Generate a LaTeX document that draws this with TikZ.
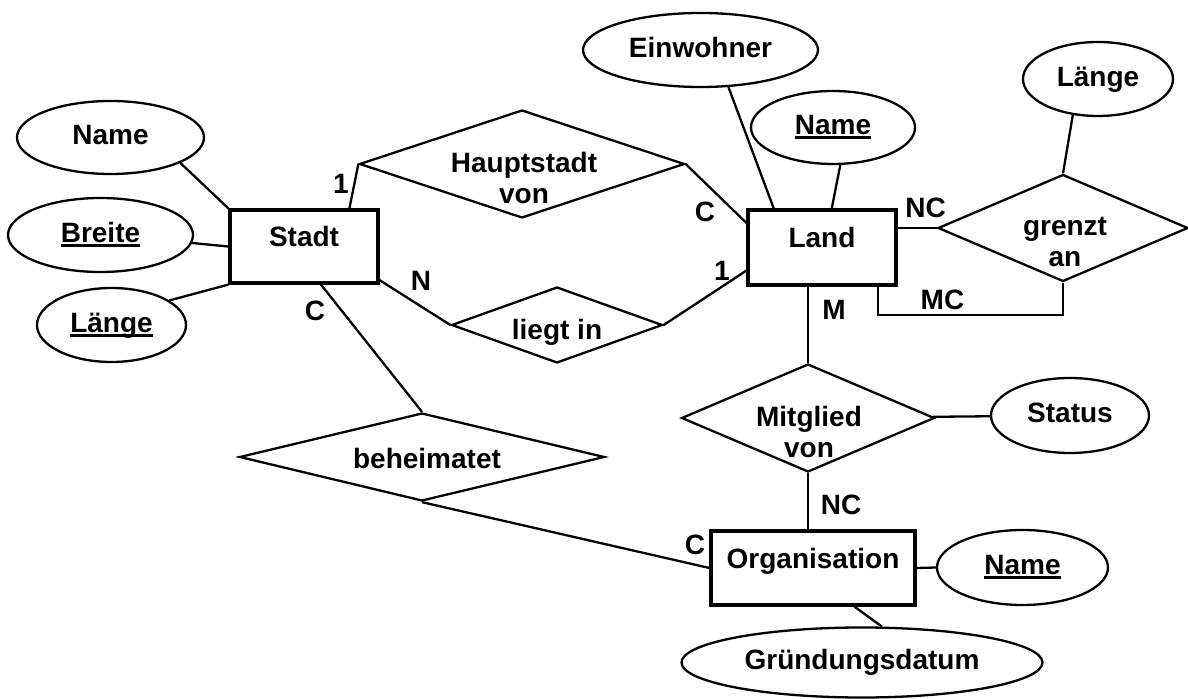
\documentclass[tikz,border=0pt]{standalone}
\usepackage{fontspec}
\setmainfont{Liberation Sans}
\usetikzlibrary{shapes.geometric}

% underlined key attribute
\newsavebox{\keybox}
\newcommand{\keyattr}[1]{\sbox{\keybox}{#1}\rlap{\rule[-2.2pt]{\wd\keybox}{1.4pt}}\usebox{\keybox}}

\tikzset{
    every node/.style={font=\fontsize{14}{15.5}\selectfont\bfseries},
    entity/.style={draw, line width=1.6pt, rectangle, inner sep=0pt,
        text height=0.72em, text depth=0.72em},
    attrib/.style={draw, line width=1.15pt, ellipse, inner sep=0pt,
        text height=0.72em, text depth=0pt},
    rel/.style={draw, line width=1.15pt, diamond, inner sep=0pt},
    lbl/.style={align=center, inner sep=0pt},
    card/.style={inner sep=0pt, text height=0.72em, text depth=0pt}
}

\begin{document}
\begin{tikzpicture}[x=0.5pt, y=-0.5pt, line width=1.15pt]

    \useasboundingbox (0,0) rectangle (1188,699);

    % Define the entities
    \node[entity, minimum width=74pt, minimum height=36.5pt] (stadt) at (304,246.5) {Stadt};
    \node[entity, minimum width=74pt, minimum height=37.5pt] (land) at (822,247.5) {Land};
    \node[entity, minimum width=102pt, minimum height=37pt] (org) at (813,568) {Organisation};

    % Define the attributes
    \node[attrib, minimum width=93.5pt, minimum height=36.5pt] (stadtname) at (110.5,137.5) {Name};
    \node[attrib, minimum width=92.5pt, minimum height=37pt] (breite) at (100.5,235) {\keyattr{Breite}};
    \node[attrib, minimum width=74.5pt, minimum height=37pt] (stadtlaenge) at (111.5,325) {\keyattr{Länge}};
    \node[attrib, minimum width=117.5pt, minimum height=37pt] (einw) at (700.5,50) {Einwohner};
    \node[attrib, minimum width=82pt, minimum height=36.5pt] (landname) at (833,127.5) {\keyattr{Name}};
    \node[attrib, minimum width=75pt, minimum height=37pt] (grenzlaenge) at (1098,79) {Länge};
    \node[attrib, minimum width=79pt, minimum height=37.5pt] (status) at (1070,415.5) {Status};
    \node[attrib, minimum width=85.5pt, minimum height=37.5pt] (orgname) at (1022.5,567.5) {\keyattr{Name}};
    \node[attrib, minimum width=180.5pt, minimum height=35pt] (gruend) at (862,662.5) {Gründungsdatum};

    % Define the relationships
    \node[rel, minimum width=162.5pt, minimum height=54pt] (haupt) at (522,164) {};
    \node[rel, minimum width=105.5pt, minimum height=38pt] (liegt) at (557,325) {};
    \node[rel, minimum width=125pt, minimum height=53.5pt] (grenzt) at (1063,228) {};
    \node[rel, minimum width=126.5pt, minimum height=54pt] (mitglied) at (808,418) {};
    \node[rel, minimum width=182.5pt, minimum height=44pt] (beheim) at (422,457) {};

    \node[lbl] (hauptlbl) at (524,178) {Hauptstadt\\von};
    \node[lbl, anchor=base] (liegtlbl) at (557,340) {liegt in};
    \node[lbl] (grenztlbl) at (1065,242) {grenzt\\an};
    \node[lbl] (mitgllbl) at (809,431.5) {Mitglied\\von};
    \node[lbl, anchor=base] (beheimlbl) at (427,469) {beheimatet};

    % Attribute lines
    \draw (stadtname.-20) -- (stadt.north west);
    \draw (breite.-5) -- (stadt.west);
    \draw (stadtlaenge.23) -- (stadt.south west);
    \draw (einw.-53) -- (land.141);
    \draw (landname.-79) -- (land.76);
    \draw (grenzlaenge.-125) -- (grenzt.north);
    \draw (mitglied) -- (status);
    \draw (org.east) -- (orgname.west);
    \draw (org.-43.5) -- (gruend.61);

    % Relationship lines
    \draw (stadt.40) -- (haupt.west);
    \draw (haupt.east) -- (land.162);
    \draw (stadt.-24) -- (liegt.west);
    \draw (liegt.east) -- (land.197);
    \draw (stadt.-66) -- (beheim.north);
    \draw (beheim.south) -- (org.west);
    \draw (grenzt.west) -- (grenzt.west -| land.east);
    \coordinate (mcturn) at (878,315);
    \draw (land.south -| mcturn) -- (mcturn) -| (grenzt.south);
    \draw (mitglied.north) -- (mitglied.north |- land.south);
    \draw (mitglied.south) -- (mitglied.south |- org.north);

    % Label the cardinalities
    \node[card] (c1) at (341,186) {1};
    \node[card] (c2) at (705,214) {C};
    \node[card] (c3) at (421,283) {N};
    \node[card] (c4) at (722,273) {1};
    \node[card] (c5) at (315,313) {C};
    \node[card] (c6) at (925.5,210.5) {NC};
    \node[card] (c7) at (942.5,302) {MC};
    \node[card] (c8) at (834,312) {M};
    \node[card] (c9) at (841,507) {NC};
    \node[card] (c10) at (695,547) {C};

\end{tikzpicture}
\end{document}
